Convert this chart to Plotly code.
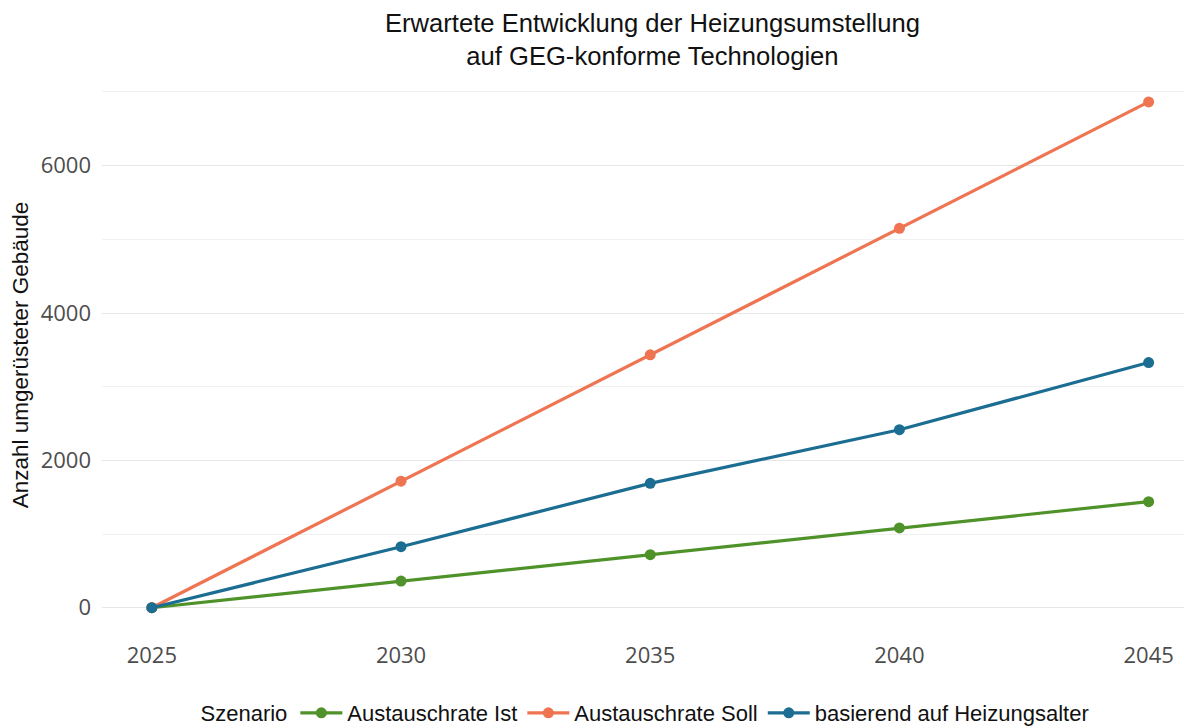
import plotly.graph_objects as go

years = [2025, 2030, 2035, 2040, 2045]
ist = [0, 362, 720, 1083, 1440]
soll = [0, 1718, 3432, 5150, 6865]
alter = [0, 828, 1688, 2416, 3328]

series = [
    ("Austauschrate Ist", ist, "#4F922A"),
    ("Austauschrate Soll", soll, "#EF7452"),
    ("basierend auf Heizungsalter", alter, "#1C6D92"),
]

fig = go.Figure()
for name, vals, col in series:
    fig.add_trace(go.Scatter(
        x=years, y=vals, name=name, mode="lines+markers",
        line=dict(color=col, width=3.2),
        marker=dict(color=col, size=11),
    ))

# page body has an 8px margin: figure is 8px smaller and offsets are compensated
W, H = 1184, 718
L, R, T, B = 94, 1, 69, 93
txt = "Liberation Sans, Arial, sans-serif"
tickf = dict(family="Open Sans, sans-serif", size=22, color="#4d4d4d")
plot_w = W - L - R
plot_h = H - T - B
fig.update_layout(
    width=W, height=H,
    paper_bgcolor="white", plot_bgcolor="white",
    margin=dict(l=L, r=R, t=T, b=B, autoexpand=False),
    xaxis=dict(
        range=[2024, 2045.85], tickvals=years, ticktext=[str(y) for y in years],
        showgrid=False, zeroline=False, showline=False, ticks="",
        tickfont=tickf, ticklabelstandoff=7, automargin=False,
    ),
    yaxis=dict(
        range=[-343, 7203], tickvals=[0, 2000, 4000, 6000],
        showgrid=True, gridcolor="#e6e6e6", gridwidth=1.3,
        zeroline=False, showline=False, ticks="",
        tickfont=tickf, ticklabelstandoff=10, automargin=False,
        title=dict(text="Anzahl umgerüsteter Gebäude", standoff=18,
                   font=dict(family=txt, size=22.5, color="#111111")),
        minor=dict(tickvals=[1000, 3000, 5000, 7000], showgrid=True,
                   gridcolor="#f0f0f0", gridwidth=1.2),
    ),
    legend=dict(
        orientation="h", x=0.5, xanchor="center", y=-0.1439, yanchor="middle",
        title=dict(text="Szenario", font=dict(family=txt, size=22, color="#111111")),
        font=dict(family=txt, size=22, color="#111111"),
        itemwidth=42, tracegroupgap=0,
    ),
    showlegend=True,
    annotations=[dict(
        text="Erwartete Entwicklung der Heizungsumstellung<br>auf GEG-konforme Technologien",
        xref="paper", yref="paper",
        x=(644 - L) / plot_w, y=1 + (T - 32) / plot_h,
        xanchor="center", yanchor="middle", showarrow=False, align="center",
        font=dict(family=txt, size=25.6, color="#111111"),
    )],
)

fig.write_html("out.html")
